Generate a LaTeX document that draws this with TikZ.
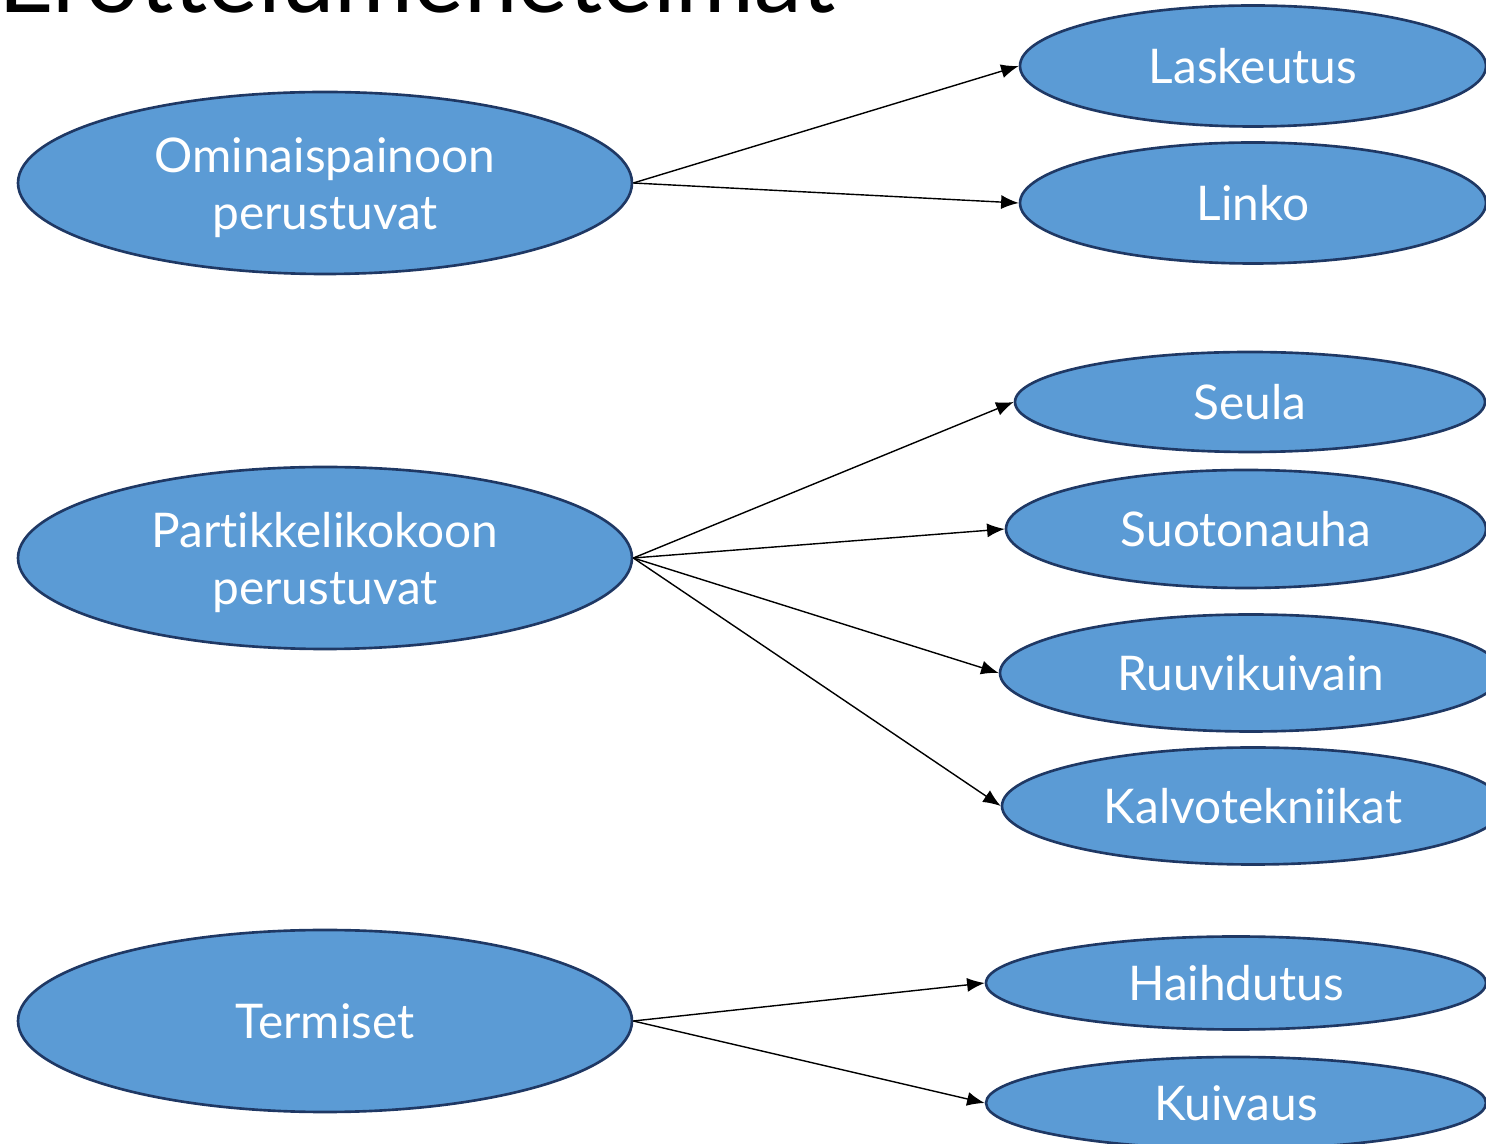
\documentclass[tikz,border=0pt]{standalone}
\usepackage{fontspec}
\setmainfont{Lato}[Ligatures={NoCommon}]
\usetikzlibrary{shapes.geometric,arrows.meta}
\definecolor{boxfill}{HTML}{5B9BD5}
\definecolor{boxline}{HTML}{1F3864}
\tikzset{
  method/.style={ellipse,draw=boxline,fill=boxfill,line width=0.75pt,inner sep=0pt,
    text=white,align=center,font=\fontsize{13.6}{16.4}\selectfont},
  group/.style={method,minimum width=6.14cm,minimum height=1.82cm},
  link/.style={-{Latex[length=5pt,width=4pt]},line width=0.4pt}
}
\newcommand{\firstline}{\rule{0pt}{12.6pt}}
\begin{document}
\begin{tikzpicture}
\useasboundingbox (0,0) rectangle (14.86,-11.44);

\node[anchor=base west,inner sep=0pt,font=\fontsize{27.3}{32}\selectfont] (title) at (-0.02,-0.13) {Erottelumenetelmät};

% main groups
\node[group] (omin) at (3.25,-1.83) {\firstline Ominaispainoon\\perustuvat};
\node[group] (part) at (3.25,-5.58) {\firstline Partikkelikokoon\\perustuvat};
\node[group] (term) at (3.25,-10.21) {Termiset};

% methods
\node[method,minimum width=4.66cm,minimum height=1.21cm] (lask) at (12.53,-0.66) {Laskeutus};
\node[method,minimum width=4.66cm,minimum height=1.21cm] (linko) at (12.53,-2.03) {Linko};
\node[method,minimum width=4.70cm,minimum height=1.00cm] (seula) at (12.50,-4.02) {Seula};
\node[method,minimum width=4.80cm,minimum height=1.18cm] (suot) at (12.46,-5.29) {Suotonauha};
\node[method,minimum width=5.02cm,minimum height=1.17cm] (ruuvi) at (12.51,-6.73) {Ruuvikuivain};
\node[method,minimum width=5.02cm,minimum height=1.17cm] (kalvo) at (12.53,-8.06) {Kalvotekniikat};
\node[method,minimum width=5.00cm,minimum height=0.93cm] (haih) at (12.36,-9.83) {Haihdutus};
\node[method,minimum width=5.00cm,minimum height=0.92cm] (kuiv) at (12.36,-11.03) {Kuivaus};

\draw[link] (omin.east) -- (lask.west);
\draw[link] (omin.east) -- (linko.west);

\draw[link] (part.east) -- (seula.west);
\draw[link] (part.east) -- (suot.west);
\draw[link] (part.east) -- (ruuvi.west);
\draw[link] (part.east) -- (kalvo.west);

\draw[link] (term.east) -- (haih.west);
\draw[link] (term.east) -- (kuiv.west);

\end{tikzpicture}
\end{document}
